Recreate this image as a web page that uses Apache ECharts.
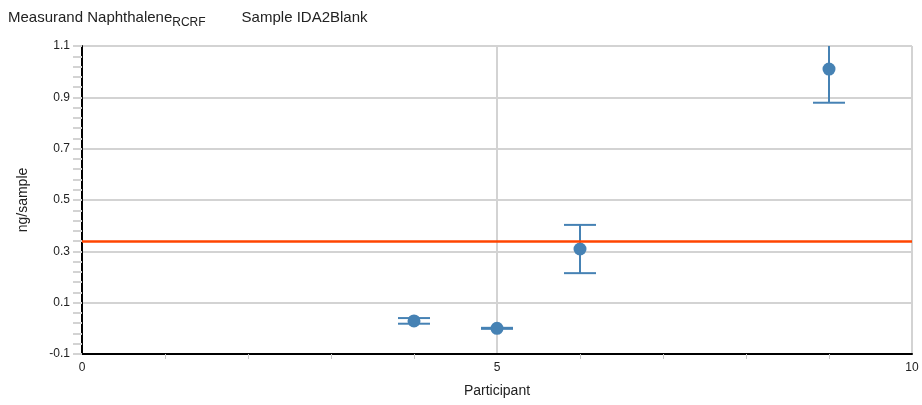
<!DOCTYPE html>
<html><head><meta charset="utf-8">
<script src="https://cdn.jsdelivr.net/npm/echarts@6/dist/echarts.min.js"></script>
<style>html,body{margin:0;padding:0;background:#fff}#c{width:922px;height:405px}</style>
</head><body><div id="c"></div>
<script>
const participants = [4, 5, 6, 9];
const values = [0.029, 0.0, 0.309, 1.010];
const uncertainties = [0.011, 0.002, 0.094, 0.131];
const refValue = 0.345;
const yTicks = [-0.1, 0.1, 0.3, 0.5, 0.7, 0.9, 1.1];
const xTicks = [0, 5, 10];

const FONT = '"Liberation Sans", Arial, sans-serif';
const chart = echarts.init(document.getElementById('c'), null, {renderer: 'canvas'});
const pts = participants.map((p, i) => [p, values[i]]);
const errs = participants.map((p, i) => [p, values[i] - uncertainties[i], values[i] + uncertainties[i]]);

chart.setOption({
  animation: false,
  textStyle: {fontFamily: FONT},
  title: {
    left: 3, top: 5,
    text: '{a|Measurand Naphthalene}{s|RCRF}{g|}{a|Sample IDA2Blank}',
    textStyle: {
      fontWeight: 'normal',
      rich: {
        a: {fontFamily: FONT, fontSize: 15, lineHeight: 17, fontWeight: 'normal', color: '#222', verticalAlign: 'top'},
        s: {fontFamily: FONT, fontSize: 12, lineHeight: 14, fontWeight: 'normal', color: '#222', padding: [7,0,0,0], verticalAlign: 'top'},
        g: {width: 36, height: 10}
      }
    }
  },
  grid: {left: 82, right: 10, top: 46, bottom: 51, containLabel: false},
  xAxis: {
    type: 'value', min: 0, max: 10, interval: 5,
    name: 'Participant', nameLocation: 'middle', nameGap: 30,
    nameTextStyle: {fontFamily: FONT, fontSize: 14, color: '#222'},
    axisLine: {show: true, onZero: false, lineStyle: {color: '#000', width: 2}},
    axisTick: {show: false},
    minorTick: {show: true, splitNumber: 5, length: 5, lineStyle: {color: '#c8c8c8', width: 1}},
    axisLabel: {customValues: xTicks, fontFamily: FONT, fontSize: 12, color: '#222', margin: 8},
    splitLine: {show: true, lineStyle: {color: '#d3d3d3', width: 2}},
    minorSplitLine: {show: false}
  },
  yAxis: {
    type: 'value', min: -0.1, max: 1.1, interval: 0.2,
    name: 'ng/sample', nameLocation: 'middle', nameGap: 52, nameRotate: 90,
    nameTextStyle: {fontFamily: FONT, fontSize: 14, color: '#222'},
    axisLine: {show: true, onZero: false, lineStyle: {color: '#000', width: 2}},
    axisTick: {show: true, customValues: yTicks, length: 9, lineStyle: {color: '#d3d3d3', width: 2}},
    minorTick: {show: true, splitNumber: 5, length: 9, lineStyle: {color: '#d3d3d3', width: 2}},
    axisLabel: {customValues: yTicks, fontFamily: FONT, fontSize: 12, color: '#222', margin: 12,
      formatter: v => (Math.round(v * 10) / 10).toFixed(1)},
    splitLine: {show: true, lineStyle: {color: '#d3d3d3', width: 2}}
  },
  series: [
    {
      type: 'custom',
      clip: true,
      data: errs,
      z: 3,
      renderItem: function (params, api) {
        const x = api.value(0);
        const lo = api.coord([x, api.value(1)]);
        const hi = api.coord([x, api.value(2)]);
        const hw = 16;
        const style = {stroke: '#4682B4', lineWidth: 2};
        return {
          type: 'group',
          children: [
            {type: 'line', shape: {x1: lo[0], y1: lo[1], x2: hi[0], y2: hi[1]}, style: style},
            {type: 'line', shape: {x1: lo[0] - hw, y1: lo[1], x2: lo[0] + hw, y2: lo[1]}, style: style},
            {type: 'line', shape: {x1: hi[0] - hw, y1: hi[1], x2: hi[0] + hw, y2: hi[1]}, style: style}
          ]
        };
      }
    },
    {
      type: 'scatter',
      data: pts,
      symbol: 'circle',
      symbolSize: 13,
      z: 4,
      itemStyle: {color: '#4682B4', opacity: 1},
      markLine: {
        silent: true,
        symbol: ['none', 'none'],
        label: {show: false},
        lineStyle: {color: '#FF4500', width: 2.5, type: 'solid'},
        data: [{yAxis: refValue}]
      }
    }
  ]
});
</script>
</body></html>
